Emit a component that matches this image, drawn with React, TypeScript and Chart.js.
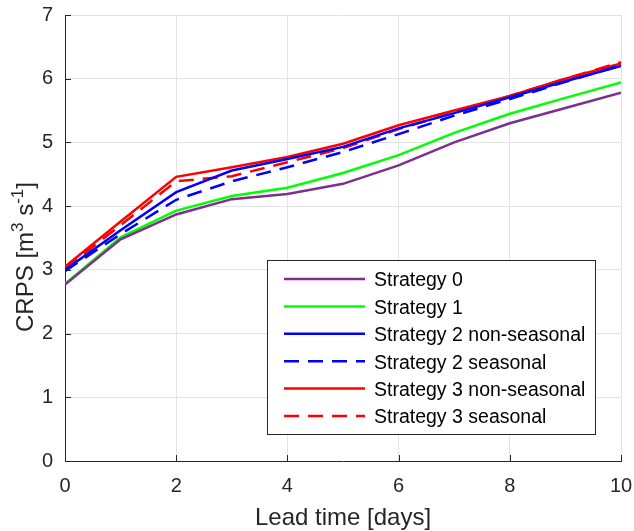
import React, { useEffect, useRef } from "react";
import { Chart, registerables } from "chart.js";

Chart.register(...registerables);

// ---- data ----
const leadTimes = [0, 1, 2, 3, 4, 5, 6, 7, 8, 9, 10];
const strategy0 = [2.77, 3.48, 3.87, 4.11, 4.19, 4.35, 4.64, 5.0, 5.3, 5.54, 5.78];
const strategy1 = [2.78, 3.51, 3.93, 4.16, 4.29, 4.52, 4.8, 5.15, 5.45, 5.7, 5.94];
const strategy2NonSeasonal = [3.0, 3.62, 4.22, 4.56, 4.74, 4.93, 5.22, 5.46, 5.71, 5.96, 6.2];
const strategy2Seasonal = [2.98, 3.56, 4.1, 4.39, 4.61, 4.85, 5.13, 5.42, 5.68, 5.95, 6.21];
const strategy3NonSeasonal = [3.05, 3.76, 4.46, 4.61, 4.77, 4.98, 5.27, 5.5, 5.73, 6.0, 6.24];
const strategy3Seasonal = [3.02, 3.7, 4.39, 4.47, 4.69, 4.91, 5.21, 5.47, 5.73, 6.0, 6.26];

const seriesLabels = [
  "Strategy 0",
  "Strategy 1",
  "Strategy 2 non-seasonal",
  "Strategy 2 seasonal",
  "Strategy 3 non-seasonal",
  "Strategy 3 seasonal",
];

const xTicks = [0, 2, 4, 6, 8, 10];
const yTicks = [0, 1, 2, 3, 4, 5, 6, 7];

const xTitle = "Lead time [days]";
const yTitleParts = [
  { text: "CRPS [m", sup: false },
  { text: "3", sup: true },
  { text: " s", sup: false },
  { text: "-1", sup: true },
  { text: "]", sup: false },
];

// ---- styles ----
const FONT = '"Liberation Sans", Arial, Helvetica, sans-serif';
const AXIS_COLOR = "#262626";
const GRID_COLOR = "#e3e3e3";
const COLORS = ["#7E2F8E", "#00FF00", "#0000FF", "#0000FF", "#FF0000", "#FF0000"];
const DASHES: number[][] = [[], [], [], [15, 9], [], [15, 9]];
const LINE_W = 2.5;

function toPoints(ys: number[]) {
  return leadTimes.map((x, i) => ({ x, y: ys[i] }));
}

function zeroPadding(scale: any) {
  scale.paddingLeft = 0;
  scale.paddingRight = 0;
  scale.paddingTop = 0;
  scale.paddingBottom = 0;
}

const inwardTicks = {
  id: "inwardTicks",
  afterDatasetsDraw(chart: any) {
    const { ctx, chartArea: ca, scales } = chart;
    ctx.save();
    ctx.strokeStyle = AXIS_COLOR;
    ctx.lineWidth = 1;
    ctx.beginPath();
    xTicks.forEach((v) => {
      const px = Math.round(scales.x.getPixelForValue(v)) + 0.5;
      ctx.moveTo(px, ca.bottom);
      ctx.lineTo(px, ca.bottom - 6);
    });
    yTicks.forEach((v) => {
      const py = Math.round(scales.y.getPixelForValue(v)) + 0.5;
      ctx.moveTo(ca.left, py);
      ctx.lineTo(ca.left + 6, py);
    });
    ctx.stroke();
    ctx.restore();
  },
};

const boxLegend = {
  id: "boxLegend",
  afterDraw(chart: any) {
    const { ctx, chartArea: ca } = chart;
    const w = 328;
    const h = 174;
    const x0 = Math.round(ca.right - 26 - w);
    const y0 = Math.round(ca.bottom - 27 - h);
    ctx.save();
    ctx.fillStyle = "#ffffff";
    ctx.fillRect(x0, y0, w, h);
    ctx.strokeStyle = AXIS_COLOR;
    ctx.lineWidth = 1;
    ctx.setLineDash([]);
    ctx.strokeRect(x0 + 0.5, y0 + 0.5, w, h);
    chart.data.datasets.forEach((ds: any, i: number) => {
      const cy = y0 + 19 + i * 27.4;
      ctx.beginPath();
      ctx.setLineDash(ds.borderDash || []);
      ctx.strokeStyle = ds.borderColor;
      ctx.lineWidth = ds.borderWidth;
      ctx.moveTo(x0 + 17, cy);
      ctx.lineTo(x0 + 98, cy);
      ctx.stroke();
      ctx.setLineDash([]);
      ctx.fillStyle = "#000000";
      ctx.font = `19.5px ${FONT}`;
      ctx.textBaseline = "middle";
      ctx.textAlign = "left";
      ctx.fillText(ds.label, x0 + 107, cy + 2);
    });
    ctx.restore();
  },
};

const yTitlePlugin = {
  id: "yTitle",
  afterDraw(chart: any) {
    const { ctx } = chart;
    const mainFont = `24px ${FONT}`;
    const supFont = `17px ${FONT}`;
    ctx.save();
    let total = 0;
    yTitleParts.forEach((p) => {
      ctx.font = p.sup ? supFont : mainFont;
      total += ctx.measureText(p.text).width;
    });
    ctx.translate(33, 257);
    ctx.rotate(-Math.PI / 2);
    ctx.fillStyle = AXIS_COLOR;
    ctx.textBaseline = "alphabetic";
    ctx.textAlign = "left";
    let x = -total / 2;
    yTitleParts.forEach((p) => {
      ctx.font = p.sup ? supFont : mainFont;
      ctx.fillText(p.text, x, p.sup ? -10 : 0);
      x += ctx.measureText(p.text).width;
    });
    ctx.restore();
  },
};

export default function App() {
  const ref = useRef<HTMLCanvasElement | null>(null);

  useEffect(() => {
    if (!ref.current) return;
    const series = [
      strategy0,
      strategy1,
      strategy2NonSeasonal,
      strategy2Seasonal,
      strategy3NonSeasonal,
      strategy3Seasonal,
    ];
    const chart = new Chart(ref.current, {
      type: "line",
      data: {
        datasets: series.map((s, i) => ({
          label: seriesLabels[i],
          data: toPoints(s),
          borderColor: COLORS[i],
          backgroundColor: COLORS[i],
          borderWidth: LINE_W,
          borderDash: DASHES[i],
          pointRadius: 0,
          tension: 0,
          fill: false,
        })),
      },
      options: {
        responsive: false,
        animation: false,
        devicePixelRatio: 1,
        layout: { padding: { top: 15, right: 13, left: 0, bottom: 0 } },
        plugins: {
          legend: { display: false },
          tooltip: { enabled: false },
        },
        scales: {
          x: {
            type: "linear",
            min: 0,
            max: 10,
            afterBuildTicks: (scale: any) => {
              scale.ticks = xTicks.map((v) => ({ value: v }));
            },
            afterFit: (scale: any) => {
              scale.height = 70;
              zeroPadding(scale);
            },
            grid: { color: GRID_COLOR, lineWidth: 1, drawTicks: false },
            border: { display: true, color: AXIS_COLOR, width: 1 },
            ticks: {
              color: AXIS_COLOR,
              padding: 13,
              maxRotation: 0,
              font: { family: FONT, size: 20 },
            },
            title: {
              display: true,
              text: xTitle,
              color: AXIS_COLOR,
              font: { family: FONT, size: 24, lineHeight: 1 },
              padding: { top: 0, bottom: 1 },
            },
          },
          y: {
            type: "linear",
            min: 0,
            max: 7,
            afterBuildTicks: (scale: any) => {
              scale.ticks = yTicks.map((v) => ({ value: v }));
            },
            afterFit: (scale: any) => {
              scale.width = 65;
              zeroPadding(scale);
            },
            grid: { color: GRID_COLOR, lineWidth: 1, drawTicks: false },
            border: { display: true, color: AXIS_COLOR, width: 1 },
            ticks: {
              color: AXIS_COLOR,
              padding: 12,
              font: { family: FONT, size: 20 },
            },
            title: { display: false },
          },
        },
      },
      plugins: [inwardTicks, yTitlePlugin, boxLegend],
    });
    return () => chart.destroy();
  }, []);

  return (
    <div style={{ position: "absolute", left: 0, top: 0, width: 634, height: 531, background: "#fff" }}>
      <canvas ref={ref} width={634} height={531} />
    </div>
  );
}
